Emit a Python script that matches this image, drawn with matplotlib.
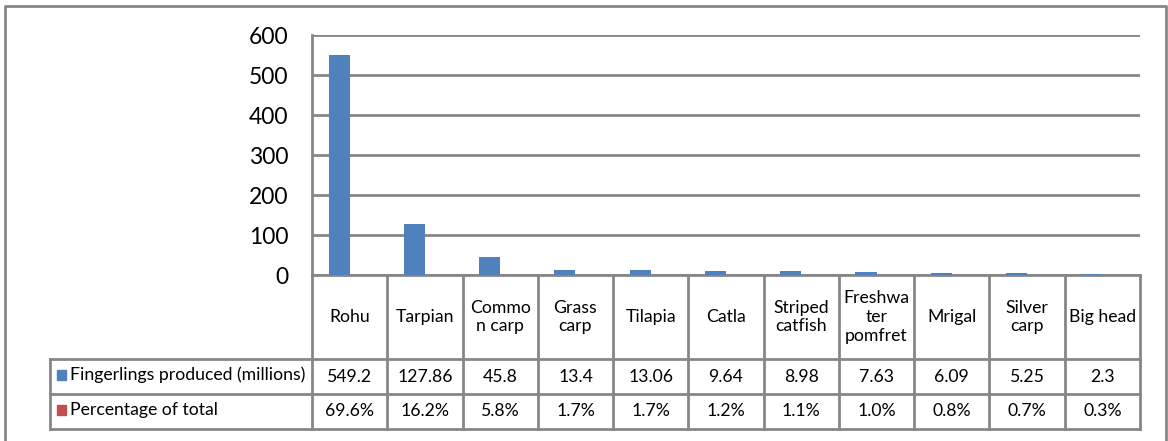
import matplotlib.pyplot as plt
from matplotlib.patches import Rectangle
from matplotlib.lines import Line2D
import numpy as np

plt.rcParams['font.family'] = ['Lato', 'DejaVu Sans']

species = ['Rohu', 'Tarpian', 'Commo\nn carp', 'Grass\ncarp', 'Tilapia', 'Catla',
           'Striped\ncatfish', 'Freshwa\nter\npomfret', 'Mrigal', 'Silver\ncarp', 'Big head']
fingerlings = [549.2, 127.86, 45.8, 13.4, 13.06, 9.64, 8.98, 7.63, 6.09, 5.25, 2.3]
fingerlings_txt = ['549.2', '127.86', '45.8', '13.4', '13.06', '9.64', '8.98', '7.63', '6.09', '5.25', '2.3']
percent = [69.6, 16.2, 5.8, 1.7, 1.7, 1.2, 1.1, 1.0, 0.8, 0.7, 0.3]
series_names = ['Fingerlings produced (millions)', 'Percentage of total']
yticks = [0, 100, 200, 300, 400, 500, 600]

W, H = 1168, 441
blue = '#4F81BD'
red = '#C0504D'
gray = '#868686'

fig = plt.figure(figsize=(W / 100, H / 100), dpi=100)

# plot area in pixels: x 312..1140, y 35..275
def fx(px):
    return px / W

def fy(py):
    return 1 - py / H

ax = fig.add_axes([fx(312), fy(275), fx(1140) - fx(312), fy(35) - fy(275)])
x = np.arange(len(species))
bw = 0.28
ax.bar(x - bw / 2, fingerlings, bw, color=blue, zorder=3)
ax.bar(x + bw / 2, np.array(percent) / 100, bw, color=red, zorder=3)
ax.set_xlim(-0.5, len(species) - 0.5)
ax.set_ylim(0, 600)
ax.set_yticks(yticks)
ax.set_yticklabels([str(v) for v in yticks], fontsize=16.5)
ax.set_xticks([])
ax.tick_params(axis='y', length=0, pad=17)
ax.grid(axis='y', color=gray, linewidth=2, zorder=0)
for s in ['top', 'right']:
    ax.spines[s].set_visible(False)
for s in ['left', 'bottom']:
    ax.spines[s].set_color(gray)
    ax.spines[s].set_linewidth(2)

# outer chart border
fig.add_artist(Line2D([fx(4.5), fx(4.5), fx(1166), fx(1166)],
                      [fy(441), fy(6), fy(6), fy(441)],
                      color=gray, linewidth=2))

# data table
y_head_bot, y_r1, y_r2 = 359, 394, 429
left = 50
fs = 12.7
edges = np.arange(len(species) + 1) - 0.5
edge_px = [ax.transData.transform((e, 0))[0] for e in edges]
for i, e in enumerate(edge_px):
    fig.add_artist(Line2D([fx(e)] * 2, [fy(275), fy(y_r2)], color=gray, linewidth=2))
fig.add_artist(Line2D([fx(left)] * 2, [fy(y_head_bot), fy(y_r2)], color=gray, linewidth=2))
for yy in [y_head_bot, y_r1, y_r2]:
    fig.add_artist(Line2D([fx(left), fx(edge_px[-1])], [fy(yy)] * 2, color=gray, linewidth=2))

for i, name in enumerate(species):
    cx = (edge_px[i] + edge_px[i + 1]) / 2
    fig.text(fx(cx), fy((275 + y_head_bot) / 2), name, ha='center', va='center',
             fontsize=fs, linespacing=1.2)
    fig.text(fx(cx), fy((y_head_bot + y_r1) / 2), fingerlings_txt[i], ha='center',
             va='center', fontsize=fs)
    fig.text(fx(cx), fy((y_r1 + y_r2) / 2), f'{percent[i]:.1f}%', ha='center',
             va='center', fontsize=fs)

for name, col, (a, b) in zip(series_names, [blue, red], [(y_head_bot, y_r1), (y_r1, y_r2)]):
    cy = (a + b) / 2 - 2
    fig.add_artist(Rectangle((fx(57), fy(cy + 5)), fx(9), fy(cy - 5) - fy(cy + 5),
                             color=col))
    fig.text(fx(70), fy(cy), name, ha='left', va='center', fontsize=fs)

fig.savefig('out.png', dpi=100)
